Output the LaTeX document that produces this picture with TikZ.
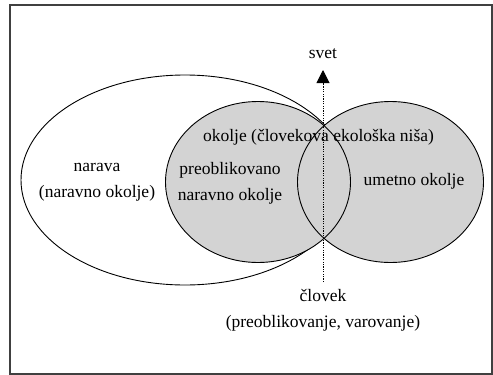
\documentclass[tikz,border=0pt]{standalone}
\usepackage{fontspec}
\setmainfont{Liberation Serif}
\usepackage{tikz}
\usetikzlibrary{positioning,arrows.meta,calc}
\definecolor{areagray}{RGB}{211,211,211}
\tikzset{
  label/.style={align=center,font=\fontsize{17.5}{26}\selectfont,inner sep=0pt},
  outline/.style={draw=black,line width=0.9pt},
  zone/.style={fill=areagray},
  axis/.style={dash pattern=on 1.2pt off 1.2pt,line width=1pt,draw=black,-{Triangle[width=13pt,length=13pt]}}
}
\begin{document}
\begin{tikzpicture}[x=1pt,y=-1pt,
  frame/.style={draw=black!75,line width=1.3pt}
]
\useasboundingbox (0,0) rectangle (493,375);
\draw[frame] (10,5) rectangle (492,374);

% narava
\draw[outline] (185,180) ellipse [x radius=164,y radius=105];
% okolje
\fill[zone] (258,182) ellipse [x radius=92.5,y radius=80.5];
\fill[zone] (390.5,182) ellipse [x radius=93,y radius=80.5];
\draw[outline] (258,182) ellipse [x radius=92.5,y radius=80.5];
\draw[outline] (390.5,182) ellipse [x radius=93,y radius=80.5];

\coordinate (axisBottom) at (323,282);
\coordinate (axisTop) at (323,70);
\draw[axis] (axisBottom) -- (axisTop);

\node[label] (Svet) at (323,54) {svet};
\node[label] (Clovek) at (323,310) {človek\\(preoblikovanje, varovanje)};
\node[label] (Narava) at (97,182) {narava\\(naravno okolje)};
\node[label] (Okolje) at (318.5,137) {okolje (človekova ekološka niša)};
\node[label] (Preoblikovano) at (230,183.5) {preoblikovano\\naravno okolje};
\node[label] (Umetno) at (414,181) {umetno okolje};
\end{tikzpicture}
\end{document}
